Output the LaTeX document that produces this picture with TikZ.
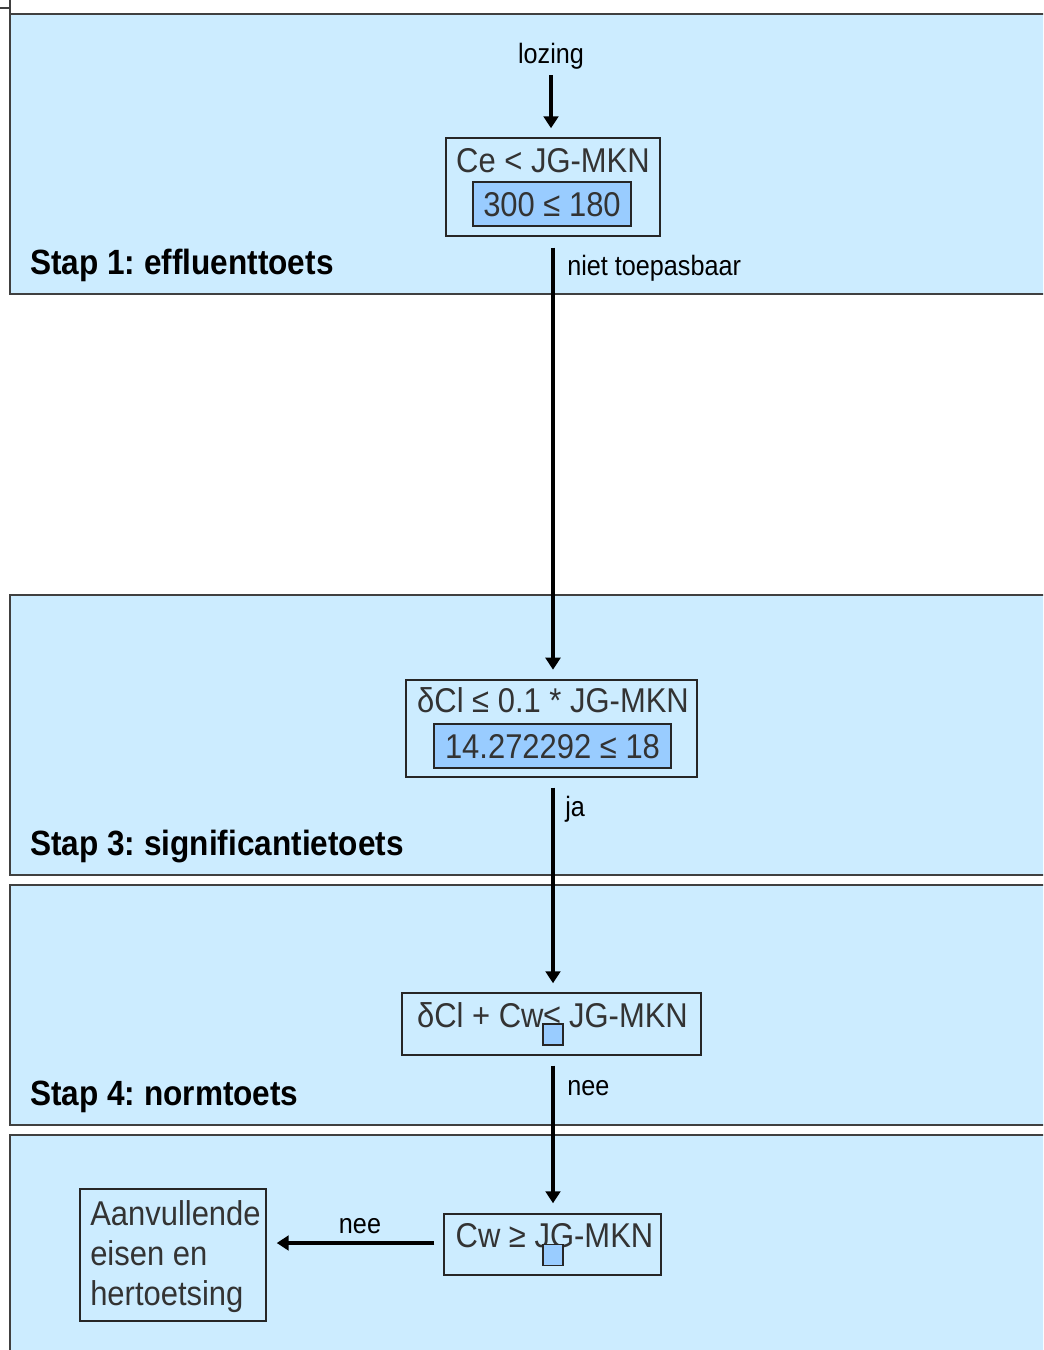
\documentclass[tikz,border=0pt]{standalone}
\usepackage{fontspec}
\setmainfont{Liberation Sans}[FakeStretch=0.9]
\usetikzlibrary{arrows.meta,calc}
\definecolor{bandfill}{HTML}{CCECFF}
\definecolor{innerfill}{HTML}{99CCFF}
\definecolor{boxtxt}{HTML}{333333}
\definecolor{bandline}{HTML}{404040}
\frenchspacing
\begin{document}
\begin{tikzpicture}[x=0.75pt,y=-0.75pt,
  bandrect/.style={draw=bandline,line width=1.5pt,fill=bandfill},
  outerbox/.style={draw=black!85,line width=1.1pt,inner sep=0pt},
  innerbox/.style={draw=black!85,line width=1.1pt,fill=innerfill,inner sep=0pt,
     text=boxtxt,font=\fontsize{25.8pt}{30pt}\selectfont,text height=18.6pt,text depth=0pt},
  boxtext/.style={inner sep=0pt,text=boxtxt,font=\fontsize{25.8pt}{30pt}\selectfont,
     text height=18.6pt,text depth=0pt},
  smalllabel/.style={inner sep=0pt,font=\fontsize{21pt}{24pt}\selectfont,
     text height=15.1pt,text depth=0pt},
  steplabel/.style={inner sep=0pt,anchor=west,font=\bfseries\fontsize{26.3pt}{30pt}\selectfont,
     text height=18.9pt,text depth=0pt},
  sqbox/.style={draw=black!85,line width=1.1pt,fill=innerfill,inner sep=0pt,
     minimum width=15pt,minimum height=15.75pt},
  arr/.style={line width=3pt,-{Triangle[width=11pt,length=9pt]}}
]
\useasboundingbox (0,0) rectangle (1043,1350);
\clip (0,0) rectangle (1043,1350);
\fill[white] (0,0) rectangle (1043,1350);

% top-left mark
\draw[bandline,line width=0.8pt] (10,0) -- (10,14);
\draw[bandline,line width=0.8pt] (0,8) -- (10,8);

% bands
\draw[bandrect] (10,14) rectangle (1060,294);
\draw[bandrect] (10,595) rectangle (1060,875);
\draw[bandrect] (10,885) rectangle (1060,1125);
\draw[bandrect] (10,1135) rectangle (1060,1370);

\node[steplabel] (s1) at (30,262) {Stap 1: effluenttoets};
\node[steplabel] (s3) at (30,843) {Stap 3: significantietoets};
\node[steplabel] (s4) at (30,1093) {Stap 4: normtoets};

% step 1
\node[smalllabel] (loz) at (551,53) {lozing};
\node[outerbox,minimum width=160.5pt,minimum height=73.5pt] (n1) at (553,187) {};
\node[boxtext] (t1) at (553,160) {Ce < JG-MKN};
\node[innerbox,minimum width=118.5pt,minimum height=33pt] (in1) at (552,204) {300 ≤ 180};

% step 3
\node[outerbox,minimum width=218.25pt,minimum height=72.75pt] (n2) at (551.5,728.5) {};
\node[boxtext] (t2) at (553,700) {δCl ≤ 0.1 * JG-MKN};
\node[innerbox,minimum width=177.75pt,minimum height=33pt] (in2) at (552.5,746) {14.272292 ≤ 18};

% step 4
\node[outerbox,minimum width=224.25pt,minimum height=46.5pt] (n3) at (551.5,1024) {};
\node[boxtext] (t3) at (552.5,1015) {δCl + Cw≤ JG-MKN};
\node[sqbox] (sq3) at (553,1034.5) {};

% step 5
\node[outerbox,minimum width=162.75pt,minimum height=45.75pt] (n4) at (552.5,1244.5) {};
\node[boxtext] (t4) at (554.5,1235) {Cw ≥ JG-MKN};
\node[sqbox] (sq4) at (553,1255) {};

\node[outerbox,minimum width=139.5pt,minimum height=99pt] (n5) at (173,1255) {};
\node[boxtext,anchor=west] (t5a) at (90,1213) {Aanvullende};
\node[boxtext,anchor=west] (t5b) at (90,1253) {eisen en};
\node[boxtext,anchor=west] (t5c) at (90,1293) {hertoetsing};

% connectors
\draw[arr] ($(loz.center)+(0,22)$) -- ($(n1.north)+(-2,-9)$);
\draw[arr] ($(n1.south)+(0,11)$) -- ($(n1.south)+(0,433)$);
\draw[arr] ($(n2.south)+(1.5,10)$) -- ($(n3.north)+(1.5,-9)$);
\draw[arr] ($(n3.south)+(1.5,10)$) -- ($(n4.north)+(0.5,-10)$);
\draw[arr] ($(n4.west)+(-9,-1.5)$) -- ($(n5.east)+(10,-12)$);

\node[smalllabel,anchor=west] (l1) at (567,265) {niet toepasbaar};
\node[smalllabel,anchor=west] (l2) at (565,806) {ja};
\node[smalllabel,anchor=west] (l3) at (567,1085) {nee};
\node[smalllabel] (l4) at (360,1223) {nee};
\end{tikzpicture}
\end{document}
